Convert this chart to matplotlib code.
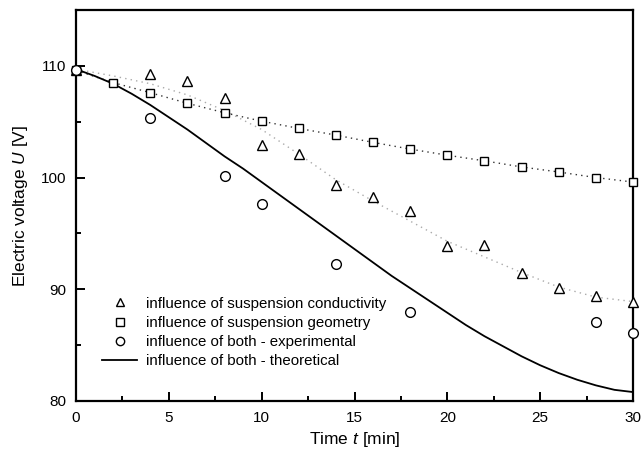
import matplotlib
matplotlib.use("Agg")
import matplotlib.pyplot as plt
from matplotlib.ticker import MultipleLocator

plt.rcParams['font.family'] = ['Liberation Sans', 'DejaVu Sans']
plt.rcParams['mathtext.fontset'] = 'custom'
plt.rcParams['mathtext.it'] = 'Liberation Sans:italic'

# influence of suspension conductivity (triangles)
t_cond = [0, 4, 6, 8, 10, 12, 14, 16, 18, 20, 22, 24, 26, 28, 30]
u_cond = [109.6, 109.3, 108.6, 107.1, 102.9, 102.1, 99.3, 98.3, 97.0, 93.9, 94.0, 91.5, 90.1, 89.4, 88.9]
# fitted curve through the conductivity points
t_cond_fit = [0, 2, 4, 6, 8, 10, 12, 14, 16, 18, 20, 22, 24, 26, 28, 30]
u_cond_fit = [109.7, 109.1, 108.4, 107.4, 106.0, 104.3, 102.1, 99.8, 97.9, 96.1, 94.3, 92.9, 91.5, 90.2, 89.3, 88.9]

# influence of suspension geometry (squares)
t_geom = [0, 2, 4, 6, 8, 10, 12, 14, 16, 18, 20, 22, 24, 26, 28, 30]
u_geom = [109.6, 108.5, 107.6, 106.65, 105.8, 105.05, 104.4, 103.8, 103.15, 102.55, 102.0, 101.5, 100.95, 100.5, 100.0, 99.6]

# influence of both - experimental (circles)
t_exp = [0, 4, 8, 10, 14, 18, 28, 30]
u_exp = [109.6, 105.3, 100.1, 97.65, 92.3, 88.0, 87.1, 86.1]

# influence of both - theoretical
t_theo = list(range(0, 31))
u_theo = [109.7, 109.1, 108.4, 107.5, 106.5, 105.4, 104.3, 103.1, 101.9, 100.8,
          99.6, 98.4, 97.2, 96.0, 94.8, 93.6, 92.4, 91.2, 90.1, 89.0,
          87.9, 86.8, 85.8, 84.9, 84.0, 83.2, 82.5, 81.9, 81.4, 81.0, 80.8]

fig = plt.figure(figsize=(6.44, 4.54), dpi=100)
ax = fig.add_axes([76/644, 1-401/454, 557/644, 391/454])

# fit lines
ax.plot(t_cond_fit, u_cond_fit, ls=(0, (1, 3)), color='#aaaaaa', lw=1.0, zorder=2)
ax.plot(t_geom, u_geom, ls=(0, (1, 3)), color='#333333', lw=1.0, zorder=2)

mk = dict(ls='none', mfc='white', mec='black', mew=1.0, clip_on=False, zorder=4)
ax.plot(t_cond, u_cond, marker='^', ms=6.5, label='influence of suspension conductivity', **mk)
ax.plot(t_geom, u_geom, marker='s', ms=6, label='influence of suspension geometry', **mk)
ax.plot(t_exp, u_exp, marker='o', ms=7, label='influence of both - experimental', **dict(mk, zorder=5))
ax.plot(t_theo, u_theo, color='black', lw=1.3, label='influence of both - theoretical', zorder=3)

ax.set_xlim(0, 30)
ax.set_ylim(80, 115)
ax.xaxis.set_major_locator(MultipleLocator(5))
ax.xaxis.set_minor_locator(MultipleLocator(2.5))
ax.yaxis.set_major_locator(MultipleLocator(10))
ax.yaxis.set_minor_locator(MultipleLocator(5))
ax.tick_params(which='both', direction='in', width=1.4, labelsize=11)
ax.tick_params(which='major', length=6.5, pad=7)
ax.tick_params(which='minor', length=3.5)
for s in ax.spines.values():
    s.set_linewidth(1.6)

ax.set_xlabel('Time $t$ [min]', fontsize=12.5, labelpad=4)
ax.set_ylabel('Electric voltage $U$ [V]', fontsize=12.5, labelpad=8)

leg = ax.legend(loc='lower left', bbox_to_anchor=(0.023, 0.05), frameon=False,
                fontsize=10.8, handlelength=2.3, handletextpad=0.6, labelspacing=0.34)
for h in leg.legend_handles[:3]:
    h.set_markersize(6)

fig.savefig('out.png', dpi=100)
